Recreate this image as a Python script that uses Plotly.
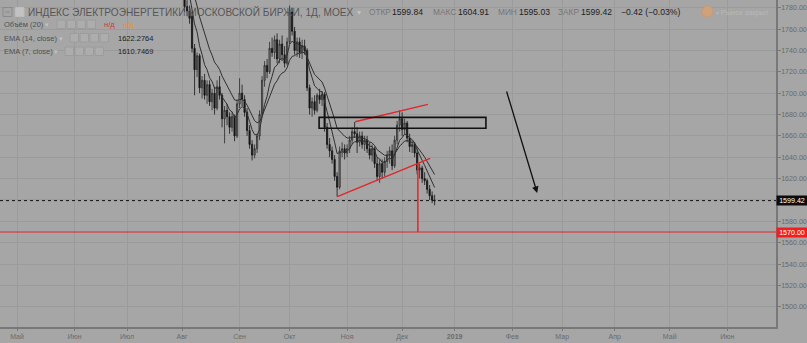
import pandas as pd
import plotly.graph_objects as go

# ---------------- data ----------------
dates = pd.bdate_range("2018-07-02", "2018-12-20")

opens = [1850, 1852, 1860, 1855, 1848, 1854, 1865, 1862, 1850, 1856, 1858, 1848, 1840, 1846, 1835, 1838, 1831, 1836, 1824, 1828, 1814, 1818,
         1804, 1795, 1781, 1777, 1772, 1742, 1722, 1735, 1705, 1712, 1698, 1708, 1692, 1700, 1686, 1706, 1698, 1676, 1684, 1678, 1668, 1678, 1660,
         1690, 1700, 1694, 1682, 1665, 1652, 1642, 1648, 1660, 1680, 1712, 1726, 1720, 1742, 1738, 1750, 1732, 1746, 1736, 1728,
         1748, 1776, 1758, 1740, 1748, 1738, 1744, 1740, 1705, 1686, 1692, 1684, 1698, 1694, 1699, 1668, 1652, 1646, 1638, 1622, 1612, 1646, 1648,
         1644, 1648, 1656, 1664, 1662, 1654, 1660, 1652, 1656, 1648, 1642, 1648, 1634, 1622, 1634, 1626, 1636, 1642, 1646, 1632, 1656, 1670,
         1676, 1666, 1672, 1658, 1650, 1652, 1644, 1628, 1630, 1620, 1618, 1610, 1604, 1599.84]
highs = [1858, 1862, 1866, 1860, 1857, 1868, 1872, 1864, 1858, 1863, 1861, 1852, 1849, 1850, 1842, 1844, 1840, 1839, 1832, 1831, 1822, 1821,
         1808, 1798, 1787, 1782, 1776, 1746, 1738, 1737, 1716, 1718, 1712, 1712, 1704, 1706, 1712, 1716, 1700, 1688, 1690, 1682, 1682, 1680, 1694,
         1714, 1708, 1698, 1686, 1670, 1656, 1652, 1662, 1684, 1716, 1730, 1732, 1748, 1752, 1754, 1756, 1750, 1754, 1744, 1752,
         1782, 1780, 1762, 1752, 1752, 1750, 1750, 1742, 1708, 1696, 1698, 1700, 1704, 1702, 1701, 1672, 1658, 1650, 1642, 1626, 1650, 1654, 1652,
         1652, 1660, 1668, 1673, 1668, 1664, 1664, 1660, 1660, 1654, 1652, 1650, 1640, 1638, 1638, 1640, 1646, 1650, 1652, 1660, 1674, 1684,
         1682, 1676, 1674, 1662, 1656, 1654, 1648, 1634, 1632, 1626, 1620, 1614, 1608, 1604.91]
lows = [1842, 1848, 1851, 1844, 1843, 1852, 1858, 1846, 1842, 1850, 1845, 1836, 1834, 1832, 1826, 1828, 1825, 1820, 1815, 1810, 1805, 1800,
        1790, 1776, 1772, 1765, 1738, 1698, 1715, 1700, 1695, 1694, 1690, 1688, 1684, 1680, 1684, 1694, 1668, 1653, 1670, 1662, 1664, 1655, 1658,
        1686, 1688, 1678, 1660, 1648, 1637, 1639, 1644, 1656, 1678, 1706, 1714, 1718, 1734, 1732, 1728, 1728, 1730, 1724, 1726,
        1746, 1754, 1736, 1734, 1733, 1732, 1736, 1702, 1680, 1678, 1680, 1682, 1690, 1688, 1664, 1648, 1640, 1634, 1618, 1603, 1610, 1640, 1638,
        1640, 1644, 1652, 1658, 1644, 1650, 1648, 1646, 1644, 1638, 1636, 1630, 1618, 1616, 1620, 1622, 1630, 1634, 1628, 1630, 1652, 1664,
        1660, 1662, 1654, 1645, 1644, 1640, 1624, 1620, 1616, 1614, 1606, 1600, 1597, 1595.03]
closes = [1852, 1860, 1855, 1848, 1854, 1865, 1862, 1850, 1856, 1858, 1848, 1840, 1846, 1835, 1838, 1831, 1836, 1824, 1828, 1814, 1818, 1804,
          1795, 1781, 1777, 1770, 1742, 1722, 1735, 1705, 1712, 1698, 1708, 1692, 1700, 1686, 1706, 1698, 1676, 1684, 1678, 1668, 1678, 1660, 1690,
          1700, 1694, 1682, 1665, 1652, 1642, 1648, 1660, 1680, 1712, 1726, 1720, 1742, 1738, 1750, 1732, 1746, 1736, 1728, 1748,
          1776, 1758, 1740, 1748, 1738, 1744, 1740, 1705, 1686, 1692, 1684, 1698, 1694, 1699, 1668, 1652, 1646, 1638, 1622, 1612, 1646, 1648, 1644,
          1648, 1656, 1664, 1662, 1654, 1660, 1652, 1656, 1648, 1642, 1648, 1634, 1622, 1634, 1626, 1636, 1642, 1646, 1632, 1656, 1670, 1676,
          1666, 1672, 1658, 1650, 1652, 1644, 1628, 1630, 1620, 1618, 1610, 1604, 1599.84, 1599.42]

ema_spans = [14, 7]
month_ticks = ["2018-05-01", "2018-06-01", "2018-07-02", "2018-08-01", "2018-09-03", "2018-10-01", "2018-11-01",
               "2018-12-03", "2019-01-01", "2019-02-01", "2019-03-01", "2019-04-01", "2019-05-01", "2019-06-03"]
month_labels = ["Май", "Июн", "Июл", "Авг", "Сен", "Окт", "Ноя", "Дек", "<b>2019</b>", "Фев", "Мар", "Апр", "Май", "Июн"]
price_ticks = list(range(1500, 1781, 20))
hidden_price_labels = [1600]
last_close = 1599.42
target_level = 1570.00

title_text = "ИНДЕКС ЭЛЕКТРОЭНЕРГЕТИКИ МОСКОВСКОЙ БИРЖИ, 1Д, MOEX"
ohlc_labels = ["ОТКР", "МАКС", "МИН", "ЗАКР"]
ohlc_values = ["1599.84", "1604.91", "1595.03", "1599.42"]
change_text = "−0.42 (−0.03%)"
ema_values = ["1622.2764", "1610.7469"]

# ---------------- style ----------------
FONT = "Liberation Sans, Arial, sans-serif"
BG = "#a6a6a6"
GRID = "#9b9b9b"
AXIS = "#787878"
TXT = "#6a6a6a"
RED = "#e3262b"
W, H = 807, 343
PW, PH = 776, 327


def px(x):
    return x / PW


def py(y):
    return 1 - y / PH


close_s = pd.Series(closes, index=dates)
emas = {s: close_s.ewm(span=s, adjust=False).mean() for s in ema_spans}
price_text = ["" if v in hidden_price_labels else f"{v:.2f}" for v in price_ticks]

fig = go.Figure()
fig.add_trace(go.Candlestick(
    x=dates, open=opens, high=highs, low=lows, close=closes,
    increasing=dict(line=dict(color="#2a2a2a", width=0.8), fillcolor="#8d8d8d"),
    decreasing=dict(line=dict(color="#151515", width=0.8), fillcolor="#151515"),
    whiskerwidth=0, showlegend=False, hoverinfo="skip"))
for s in ema_spans:
    fig.add_trace(go.Scatter(x=dates, y=emas[s], mode="lines",
                             line=dict(color="#303030", width=1), showlegend=False, hoverinfo="skip"))

# horizontal levels
fig.add_shape(type="line", xref="x domain", x0=0, x1=1, yref="y", y0=last_close, y1=last_close,
              line=dict(color="#111111", width=1, dash="dot"))
fig.add_shape(type="line", xref="x domain", x0=0, x1=1, yref="y", y0=target_level, y1=target_level,
              line=dict(color=RED, width=1))

# drawings
fig.add_shape(type="line", x0="2018-11-06 04:48", y0=1673.2, x1="2018-12-17 07:12", y1=1689.5,
              line=dict(color=RED, width=1.5))
fig.add_shape(type="line", x0="2018-10-26 02:24", y0=1603.1, x1="2018-12-18 04:48", y1=1639,
              line=dict(color=RED, width=1.5))
fig.add_shape(type="line", x0="2018-12-11 07:12", y0=1634.6, x1="2018-12-11 07:12", y1=target_level,
              line=dict(color=RED, width=1.5))
fig.add_shape(type="rect", x0="2018-10-16 19:12", x1="2019-01-17 12:00", y0=1667.1, y1=1677.3,
              line=dict(color="#111111", width=1.6))
fig.add_annotation(x="2019-02-15", y=1606.6, ax="2019-01-29 14:24", ay=1703, axref="x", ayref="y",
                   xref="x", yref="y", showarrow=True, arrowhead=2, arrowsize=1, arrowwidth=1.3,
                   arrowcolor="#111111", text="")


def label(x, y, text, size, color):
    fig.add_annotation(xref="paper", yref="paper", x=px(x), y=py(y), xanchor="left", yanchor="middle",
                       text=text, showarrow=False, borderpad=0,
                       font=dict(size=size, color=color, family=FONT))


def icons(x0, y0, n=4, w=8.5, gap=1.5, h=8.5):
    for i in range(n):
        a = x0 + i * (w + gap)
        fig.add_shape(type="rect", xref="paper", yref="paper", x0=px(a), x1=px(a + w), y0=py(y0 + h), y1=py(y0),
                      line=dict(color="#9c9c9c", width=1), fillcolor="#adadad")


# header line 1
fig.add_shape(type="rect", xref="paper", yref="paper", x0=px(3), x1=px(12), y0=py(16.5), y1=py(7.5),
              line=dict(color="#8a8a8a", width=1), fillcolor="rgba(0,0,0,0)")
fig.add_shape(type="line", xref="paper", yref="paper", x0=px(5), x1=px(10), y0=py(12), y1=py(12),
              line=dict(color="#8a8a8a", width=1))
fig.add_shape(type="rect", xref="paper", yref="paper", x0=px(15.5), x1=px(24), y0=py(16.5), y1=py(7.5),
              line=dict(color="#bdbdbd", width=1), fillcolor="#c2c2c2")
label(27, 12, title_text, 10.1, "#565656")
label(356, 12, "▾", 8, "#c2c2c2")
for lx, vx, lt, vt in zip([368, 432, 497, 557], [391, 457, 518, 580], ohlc_labels, ohlc_values):
    label(lx, 12.5, lt, 8.3, "#767676")
    label(vx, 12.5, vt, 8.6, "#1e1e1e")
label(620, 12.5, change_text, 8.6, "#1e1e1e")
fig.add_shape(type="circle", xref="paper", yref="paper", x0=px(702), x1=px(713), y0=py(17), y1=py(6),
              line=dict(color="#c99a70", width=1), fillcolor="#cfa27c")
label(715, 12, "• Рынок закрыт", 7.5, "#b8b8b8")

# legend lines
label(3, 24.5, "Объём (20)", 7.5, "#505050")
label(44, 24.5, "▾", 6.5, "#c2c2c2")
icons(57, 20)
label(103, 24.5, "н/д", 7.5, "#d2373a")
label(122, 24.5, "н/д", 7.5, "#e0953a")

label(3, 38, "EMA (14, close)", 7.5, "#505050")
label(58, 38, "▾", 6.5, "#c2c2c2")
icons(70, 33.5)
label(117, 38, ema_values[0], 7.5, "#1e1e1e")

label(3, 51.5, "EMA (7, close)", 7.5, "#505050")
label(53, 51.5, "▾", 6.5, "#c2c2c2")
icons(65, 47)
label(117, 51.5, ema_values[1], 7.5, "#1e1e1e")

# price tags on axis
fig.add_annotation(xref="paper", yref="y", x=1, y=last_close, xanchor="left", yanchor="middle",
                   text=f"{last_close:.2f}", showarrow=False, bgcolor="#0c0c0c", width=29, height=8,
                   borderpad=0.5, font=dict(size=7.1, color="#ffffff", family=FONT))
fig.add_annotation(xref="paper", yref="y", x=1, y=target_level, xanchor="left", yanchor="middle",
                   text=f"{target_level:.2f}", showarrow=False, bgcolor="#f01e1e", width=29, height=8,
                   borderpad=0.5, font=dict(size=7.1, color="#ffffff", family=FONT))

fig.update_layout(
    width=W, height=H,
    margin=dict(l=0, r=W - PW, t=0, b=H - PH, pad=0),
    paper_bgcolor=BG, plot_bgcolor=BG,
    font=dict(family=FONT, size=7, color=TXT),
    showlegend=False,
    xaxis=dict(type="date", range=["2018-04-20 04:48", "2019-06-28 12:00"],
               rangebreaks=[dict(bounds=["sat", "mon"])],
               tickmode="array", tickvals=month_ticks, ticktext=month_labels,
               showgrid=True, gridcolor=GRID, gridwidth=1, zeroline=False,
               showline=True, linecolor=AXIS, linewidth=1.5, ticks="outside", ticklen=2, tickcolor=AXIS,
               tickfont=dict(size=7, color=TXT), rangeslider=dict(visible=False), automargin=False),
    yaxis=dict(side="right", range=[1481.1, 1787.2], tickmode="array", tickvals=price_ticks,
               ticktext=price_text, showgrid=True, gridcolor=GRID, gridwidth=1, zeroline=False,
               showline=True, linecolor=AXIS, linewidth=1.5, ticks="outside", ticklen=3, tickcolor=AXIS,
               ticklabelstandoff=-1,
               tickfont=dict(size=7.1, color=TXT), automargin=False),
)

fig.write_html("out.html")
